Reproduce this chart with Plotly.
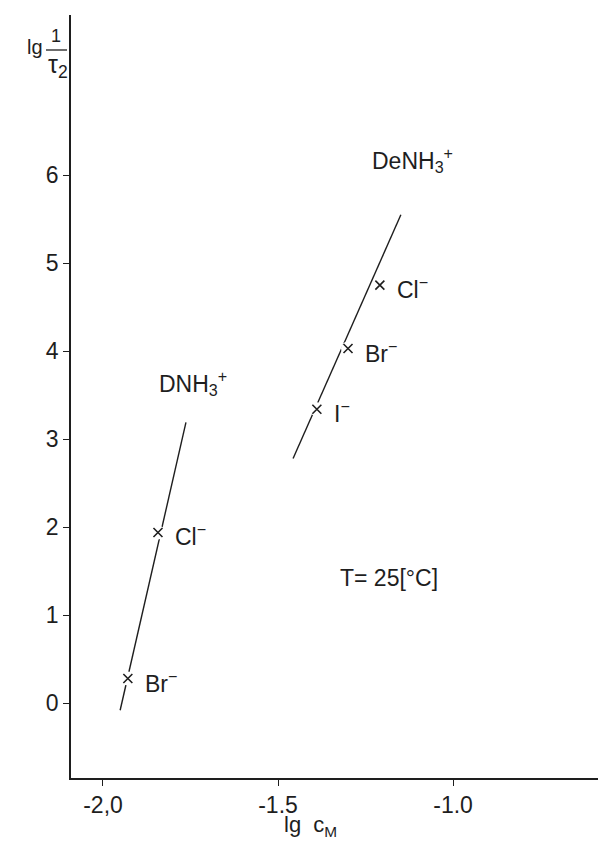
import plotly.graph_objects as go

# ---- data ----
dnh_line_x = [-1.951, -1.763]
dnh_line_y = [-0.08, 3.19]
dnh_x = [-1.929, -1.843]
dnh_y = [0.28, 1.94]
dnh_labels = ["Br<sup>−</sup>", "Cl<sup>−</sup>"]

denh_line_x = [-1.457, -1.149]
denh_line_y = [2.78, 5.55]
denh_x = [-1.389, -1.300, -1.209]
denh_y = [3.34, 4.03, 4.75]
denh_labels = ["I<sup>−</sup>", "Br<sup>−</sup>", "Cl<sup>−</sup>"]

x_ticks = [-2.0, -1.5, -1.0]
x_ticklabels = ["-2,0", "-1.5", "-1.0"]
y_ticks = [0, 1, 2, 3, 4, 5, 6]
y_ticklabels = ["0", "1", "2", "3", "4", "5", "6"]

INK = "#1e1e1e"
FONT = "Liberation Sans"
FS = 23

# page body has an 8px margin: figure is shrunk so the plot area lands where the reference has it
L, T, PW, PH = 71, 15, 535, 763


def px(xp):
    return (xp - L) / PW


def py(yp):
    return (T + PH - yp) / PH


fig = go.Figure()

for lx, ly, mx, my in [(dnh_line_x, dnh_line_y, dnh_x, dnh_y),
                       (denh_line_x, denh_line_y, denh_x, denh_y)]:
    fig.add_trace(go.Scatter(x=lx, y=ly, mode="lines",
                             line=dict(color=INK, width=1.4),
                             showlegend=False, hoverinfo="skip"))
    fig.add_trace(go.Scatter(x=mx, y=my, mode="markers",
                             marker=dict(symbol="circle", size=14, color="white",
                                         line=dict(width=0)),
                             showlegend=False, hoverinfo="skip"))
    fig.add_trace(go.Scatter(x=mx, y=my, mode="markers",
                             marker=dict(symbol="x-thin", size=9,
                                         line=dict(color=INK, width=1.6)),
                             showlegend=False))

annos = []
for xs, ys, labs in [(dnh_x, dnh_y, dnh_labels), (denh_x, denh_y, denh_labels)]:
    for x, y, t in zip(xs, ys, labs):
        annos.append(dict(x=x, y=y, xref="x", yref="y", text=t, showarrow=False,
                          xanchor="left", yanchor="middle", xshift=15, yshift=-3,
                          font=dict(family=FONT, size=FS, color=INK)))

annos += [
    dict(x=-1.846, y=3.64, xref="x", yref="y", text="DNH<sub>3</sub><sup>+</sup>",
         showarrow=False, xanchor="left", yanchor="middle",
         font=dict(family=FONT, size=FS, color=INK)),
    dict(x=-1.237, y=6.17, xref="x", yref="y", text="DeNH<sub>3</sub><sup>+</sup>",
         showarrow=False, xanchor="left", yanchor="middle",
         font=dict(family=FONT, size=FS, color=INK)),
    dict(x=-1.330, y=1.42, xref="x", yref="y", text="T= 25[°C]",
         showarrow=False, xanchor="left", yanchor="middle",
         font=dict(family=FONT, size=FS, color=INK)),
    # x title
    dict(x=px(310), y=py(826), xref="paper", yref="paper", text="lg  c<sub>M</sub>",
         showarrow=False, xanchor="center", yanchor="middle",
         font=dict(family=FONT, size=FS - 1, color=INK)),
    # y title: lg 1/tau2
    dict(x=px(35), y=py(47), xref="paper", yref="paper", text="lg",
         showarrow=False, xanchor="center", yanchor="middle",
         font=dict(family=FONT, size=20, color=INK)),
    dict(x=px(56), y=py(36), xref="paper", yref="paper", text="1",
         showarrow=False, xanchor="center", yanchor="middle",
         font=dict(family=FONT, size=18, color=INK)),
    dict(x=px(58), y=py(66), xref="paper", yref="paper",
         text="τ<sub>2</sub>", showarrow=False, xanchor="center", yanchor="middle",
         font=dict(family=FONT, size=25, color=INK)),
]

shapes = [dict(type="line", xref="paper", yref="paper",
               x0=px(46), x1=px(67), y0=py(50), y1=py(50),
               line=dict(color=INK, width=1.3))]

fig.update_layout(
    width=598, height=834,
    margin=dict(l=L - 8, r=0, t=T - 8, b=834 - (T - 8) - PH),
    paper_bgcolor="white", plot_bgcolor="white",
    annotations=annos, shapes=shapes,
    font=dict(family=FONT, size=FS, color=INK),
    xaxis=dict(range=[-2.0914, -0.563], tickvals=x_ticks, ticktext=x_ticklabels,
               showgrid=False, zeroline=False, showline=True, linecolor=INK,
               linewidth=1.5, ticks="outside", ticklen=6, tickcolor=INK,
               tickwidth=1.3, tickfont=dict(family=FONT, size=FS, color=INK)),
    yaxis=dict(range=[-0.85, 7.82], tickvals=y_ticks, ticktext=y_ticklabels,
               showgrid=False, zeroline=False, showline=True, linecolor=INK,
               linewidth=1.5, ticks="outside", ticklen=6, tickcolor=INK,
               tickwidth=1.3, tickfont=dict(family=FONT, size=FS, color=INK)),
)

fig.write_html("out.html")
